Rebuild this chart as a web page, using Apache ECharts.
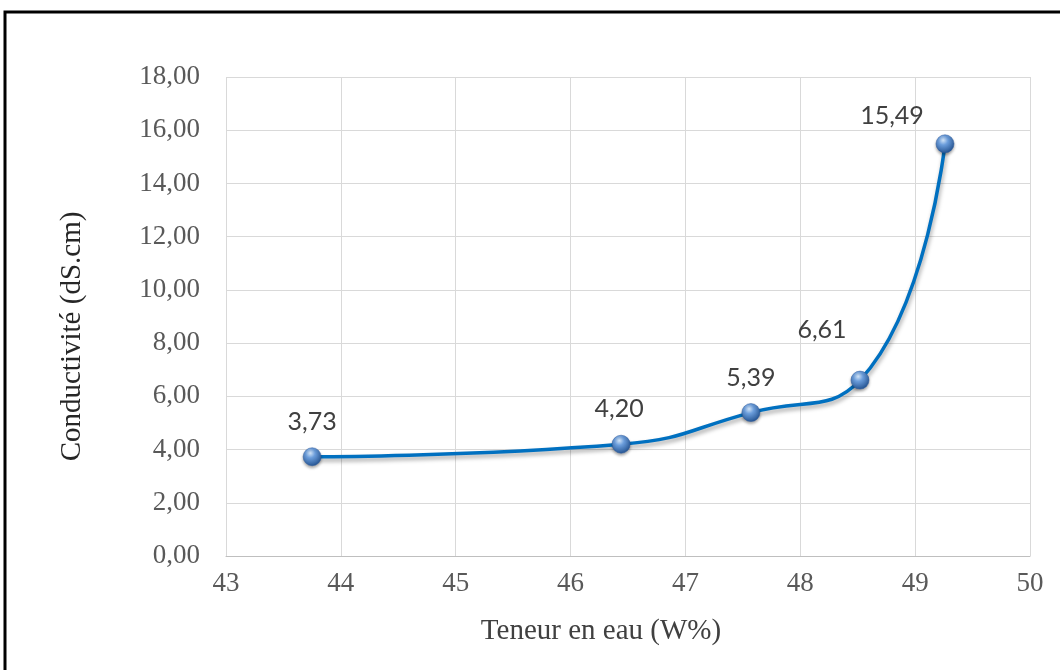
<!DOCTYPE html>
<html>
<head>
<meta charset="utf-8">
<script src="https://cdn.jsdelivr.net/npm/echarts@6/dist/echarts.min.js"></script>
<style>
html,body{margin:0;padding:0;background:#fff;}
#c{width:1060px;height:670px;}
</style>
</head>
<body>
<div id="c"></div>
<script>
// Data
var xValues = [43.75, 46.44, 47.57, 48.52, 49.26];
var yValues = [3.73, 4.20, 5.39, 6.61, 15.49];
var yTickLabels = ['0,00','2,00','4,00','6,00','8,00','10,00','12,00','14,00','16,00','18,00'];
var xAxisTitle = 'Teneur en eau (W%)';
var yAxisTitle = 'Conductivité (dS.cm)';
// label offsets (style, not data)
var labelOffsets = [[0,-35],[-2,-35],[0,-35],[-38,-50],[-53,-28]];

function fmt(v){ return v.toFixed(2).replace('.', ','); }

var points = xValues.map(function(x,i){
  return {value:[x, yValues[i]], label:{offset:labelOffsets[i]}};
});

var chart = echarts.init(document.getElementById('c'), null, {renderer:'canvas'});
chart.setOption({
  animation:false,
  backgroundColor:'#fff',
  grid:{left:226, right:30, top:77, bottom:114, containLabel:false},
  graphic:[{
    type:'rect', z:100, silent:true,
    shape:{x:5, y:12, width:1100, height:700},
    style:{fill:'none', stroke:'#000', lineWidth:3}
  }],
  xAxis:{
    type:'value', min:43, max:50, interval:1,
    name:xAxisTitle, nameLocation:'middle', nameGap:61,
    nameTextStyle:{fontFamily:'Liberation Serif', fontSize:29, color:'#404040', padding:[0,54,0,0]},
    axisLine:{show:true, lineStyle:{color:'#bfbfbf', width:1}},
    axisTick:{show:false},
    axisLabel:{fontFamily:'Liberation Serif', fontSize:27, color:'#595959', margin:14},
    splitLine:{show:true, lineStyle:{color:'#d9d9d9', width:1}}
  },
  yAxis:{
    type:'value', min:0, max:18, interval:2,
    name:yAxisTitle, nameLocation:'middle', nameGap:139, nameRotate:90,
    nameTextStyle:{fontFamily:'Liberation Serif', fontSize:29, color:'#262626', padding:[0,40,0,0]},
    axisLine:{show:false},
    axisTick:{show:false},
    axisLabel:{fontFamily:'Liberation Serif', fontSize:27, color:'#595959', margin:26,
      formatter:function(v){ var i=Math.round(v/2); return yTickLabels[i]; }},
    splitLine:{show:true, lineStyle:{color:'#d9d9d9', width:1}}
  },
  series:[{
    type:'line',
    data:points,
    smooth:0.5,
    symbol:'circle',
    symbolSize:18,
    lineStyle:{color:'#0070c0', width:3.5, shadowColor:'rgba(0,0,0,0.35)', shadowBlur:4, shadowOffsetY:3, shadowOffsetX:1},
    itemStyle:{
      color:{type:'radial', x:0.4, y:0.3, r:0.75, colorStops:[
        {offset:0, color:'#d2e4f7'},
        {offset:0.35, color:'#6b9ddb'},
        {offset:1, color:'#1f4e8c'}]},
      borderColor:'#2a5aa0', borderWidth:0.5,
      shadowColor:'rgba(0,0,0,0.35)', shadowBlur:3, shadowOffsetY:2
    },
    label:{
      show:true, position:'inside',
      fontFamily:'Lato', fontSize:25, color:'#404040',
      formatter:function(p){ return fmt(p.value[1]); }
    }
  }]
});
</script>
</body>
</html>
